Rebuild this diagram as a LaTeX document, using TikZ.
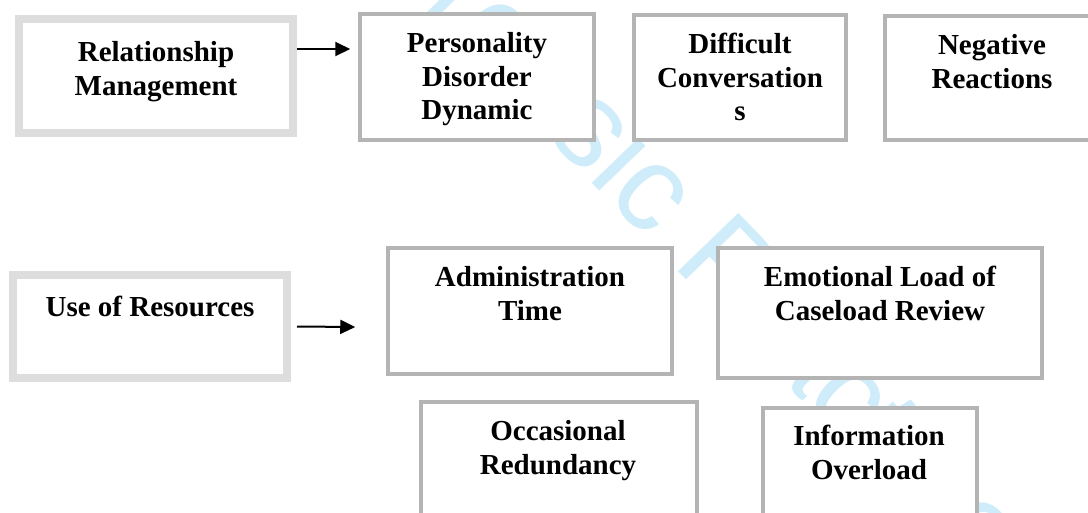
\documentclass[tikz,border=0pt]{standalone}
\usepackage{fontspec}
\setmainfont{Liberation Serif}
\newfontfamily\wmfont{Liberation Sans}
\usetikzlibrary{arrows.meta}
\definecolor{paleframe}{RGB}{221,221,221}
\definecolor{midframe}{RGB}{180,180,180}
\definecolor{wmcyan}{RGB}{206,236,250}
\tikzset{
  heavybox/.style={draw=paleframe, line width=8pt, fill=white, rectangle, inner sep=0pt},
  lightbox/.style={draw=midframe, line width=3.5pt, fill=white, rectangle, inner sep=0pt},
  caption/.style={font=\bfseries\fontsize{29}{33.5}\selectfont, align=center, inner sep=0pt, anchor=north},
  flow/.style={-{Triangle[length=15pt,width=14pt]}, line width=2pt, black},
  watermark/.style={font=\wmfont\fontsize{122}{130}\selectfont, text=wmcyan, rotate=-46, anchor=base, inner sep=0pt},
}
\begin{document}
\begin{tikzpicture}[x=1pt,y=-1pt]
\useasboundingbox (0,0) rectangle (1088,512);
\clip (0,0) rectangle (1088,512);
\fill[white] (0,0) rectangle (1088,512);

% faint background lettering
\node[watermark] (wm) at (650,243) {Forensic Practice};

% upper row
\node[heavybox, minimum width=274pt, minimum height=114pt] (rel) at (156,76) {};
\node[lightbox, minimum width=234pt, minimum height=126pt] (pdd) at (477,77) {};
\node[lightbox, minimum width=212pt, minimum height=125pt] (dcv) at (740,77.5) {};
\node[lightbox, minimum width=214pt, minimum height=124pt] (neg) at (992,78) {};

% lower rows
\node[heavybox, minimum width=274pt, minimum height=103pt] (use) at (150,326.5) {};
\node[lightbox, minimum width=284pt, minimum height=126pt] (adm) at (530,311) {};
\node[lightbox, minimum width=324pt, minimum height=130pt] (emo) at (880,313) {};
\node[lightbox, minimum width=276pt, minimum height=158pt] (occ) at (559,481) {};
\node[lightbox, minimum width=214pt, minimum height=152pt] (inf) at (870,484) {};

% captions
\node[caption] (relT) at (156,38) {\strut Relationship\\Management};
\node[caption] (pddT) at (477,29) {\strut Personality\\Disorder\\Dynamic};
\node[caption] (dcvT) at (740,30) {\strut Difficult\\Conversation\\s};
\node[caption] (negT) at (992,31) {\strut Negative\\Reactions};
\node[caption] (useT) at (150,293) {\strut Use of Resources};
\node[caption] (admT) at (530,263) {\strut Administration\\Time};
\node[caption] (emoT) at (880,263) {\strut Emotional Load of\\Caseload Review};
\node[caption] (occT) at (558,417) {\strut Occasional\\Redundancy};
\node[caption] (infT) at (869,422) {\strut Information\\Overload};

% arrows
\draw[flow] ([yshift=27pt]rel.east) -- ([xshift=-8pt,yshift=28pt]pdd.west);
\draw[flow] ([xshift=6pt]use.east) -- ([xshift=-31pt,yshift=-16pt]adm.west);
\end{tikzpicture}
\end{document}
